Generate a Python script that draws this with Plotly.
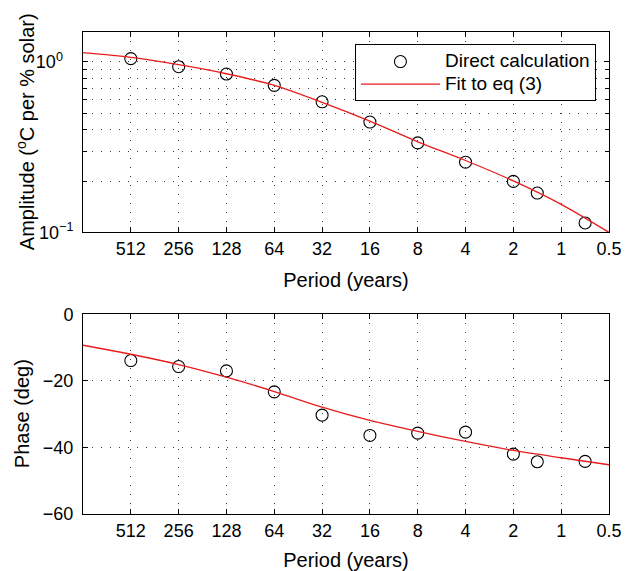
import plotly.graph_objects as go
from plotly.subplots import make_subplots

# Periods (years) at which the response was computed directly
periods = [512, 256, 128, 64, 32, 16, 8, 4, 2, 1.414, 0.707]
amplitude = [1.046, 0.938, 0.850, 0.729, 0.584, 0.444, 0.335, 0.258, 0.199, 0.170, 0.1135]
phase = [-13.9, -15.7, -17.0, -23.3, -30.3, -36.4, -35.7, -35.4, -42.0, -44.3, -44.2]

# Fitted curve sampled at octave periods
fit_periods = [1024, 512, 256, 128, 64, 32, 16, 8, 4, 2, 1, 0.5]
fit_amplitude = [1.134, 1.064, 0.964, 0.853, 0.729, 0.580, 0.450, 0.340, 0.264, 0.2004, 0.146, 0.100]
fit_phase = [-9.3, -12.0, -15.1, -18.9, -23.2, -27.9, -31.9, -35.2, -38.2, -40.9, -43.1, -45.2]

# Axis ticks
period_ticks = [512, 256, 128, 64, 32, 16, 8, 4, 2, 1, 0.5]
period_labels = ["512", "256", "128", "64", "32", "16", "8", "4", "2", "1", "0.5"]
amp_ticks = [0.1, 1.0]
amp_labels = ["10<sup>\u22121</sup>", "10<sup>0\u00a0\u00a0\u00a0</sup>"]
amp_minor_ticks = [0.2, 0.3, 0.4, 0.5, 0.6, 0.7, 0.8, 0.9]
phase_ticks = [-60, -40, -20, 0]
phase_labels = ["\u221260", "\u221240", "\u221220", "0"]

FONT = "Liberation Sans, Arial, Helvetica, sans-serif"
RED = "rgb(232,28,28)"
GRID = "rgb(60,60,60)"
LEGEND_SPAN = '<span style="font-size:19px">{}</span>'

fig = make_subplots(rows=2, cols=1, vertical_spacing=0.0)

for row, (yd, yf) in enumerate([(amplitude, fit_amplitude), (phase, fit_phase)], start=1):
    fig.add_trace(go.Scatter(
        x=periods, y=yd, mode="markers", name=LEGEND_SPAN.format("Direct calculation"),
        marker=dict(symbol="circle-open", size=12, color="black", line=dict(width=1.1, color="black")),
        showlegend=(row == 1)), row=row, col=1)
    fig.add_trace(go.Scatter(
        x=fit_periods, y=yf, mode="lines", name=LEGEND_SPAN.format("Fit to eq (3)"),
        line=dict(color=RED, width=1.3, shape="spline", smoothing=0.8),
        showlegend=(row == 1)), row=row, col=1)

grid_dash = "1px,8px"
xcommon = dict(
    type="log", range=[3.0103, -0.30103], tickmode="array",
    tickvals=period_ticks, ticktext=period_labels,
    ticks="inside", ticklen=5, tickcolor="black", tickwidth=1,
    showline=True, linecolor="black", linewidth=1, mirror="ticks",
    showgrid=True, gridcolor=GRID, gridwidth=1, griddash=grid_dash,
    zeroline=False, automargin=False,
    tickfont=dict(family=FONT, size=18, color="black"),
    title=dict(text="Period (years)", font=dict(family=FONT, size=20, color="black"), standoff=15),
)
fig.update_xaxes(**xcommon, row=1, col=1)
fig.update_xaxes(**xcommon, row=2, col=1)

ycommon = dict(
    ticks="inside", ticklen=5, tickcolor="black", tickwidth=1,
    showline=True, linecolor="black", linewidth=1, mirror="ticks",
    showgrid=True, gridcolor=GRID, gridwidth=1, griddash=grid_dash,
    zeroline=False, automargin=False,
    tickfont=dict(family=FONT, size=18, color="black"),
)
fig.update_yaxes(**ycommon, type="log", range=[-1, 0.17609], tickmode="array",
                 tickvals=amp_ticks, ticktext=amp_labels, ticklabelstandoff=5,
                 minor=dict(tickmode="array", tickvals=amp_minor_ticks, ticks="inside",
                            ticklen=4, tickcolor="black", tickwidth=1,
                            showgrid=True, gridcolor=GRID, gridwidth=1, griddash=grid_dash),
                 domain=[0.5844, 1.0], row=1, col=1)
fig.update_yaxes(**ycommon, range=[-60, 0], tickmode="array",
                 tickvals=phase_ticks, ticktext=phase_labels, ticklabelstandoff=5,
                 domain=[0.0, 0.4143], row=2, col=1)

# Vertical axis titles
fig.add_annotation(text="Amplitude (<sup>o</sup>C per % solar)", xref="paper", yref="paper",
                   x=0, y=0.7922, xshift=-58, xanchor="center", yanchor="middle",
                   textangle=-90, showarrow=False,
                   font=dict(family=FONT, size=20, color="black"))
fig.add_annotation(text="Phase (deg)", xref="paper", yref="paper",
                   x=0, y=0.2072, xshift=-61, xanchor="center", yanchor="middle",
                   textangle=-90, showarrow=False,
                   font=dict(family=FONT, size=20, color="black"))

fig.update_layout(
    width=625, height=571,
    margin=dict(l=83, r=16, t=32, b=57, autoexpand=False),
    paper_bgcolor="white", plot_bgcolor="white",
    font=dict(family=FONT, size=18, color="black"),
    legend=dict(x=0.517, y=0.9745, xanchor="left", yanchor="top",
                bordercolor="black", borderwidth=1, bgcolor="white",
                font=dict(family=FONT, size=15, color="black"),
                itemwidth=79, tracegroupgap=0),
)

fig.write_html("out.html")
